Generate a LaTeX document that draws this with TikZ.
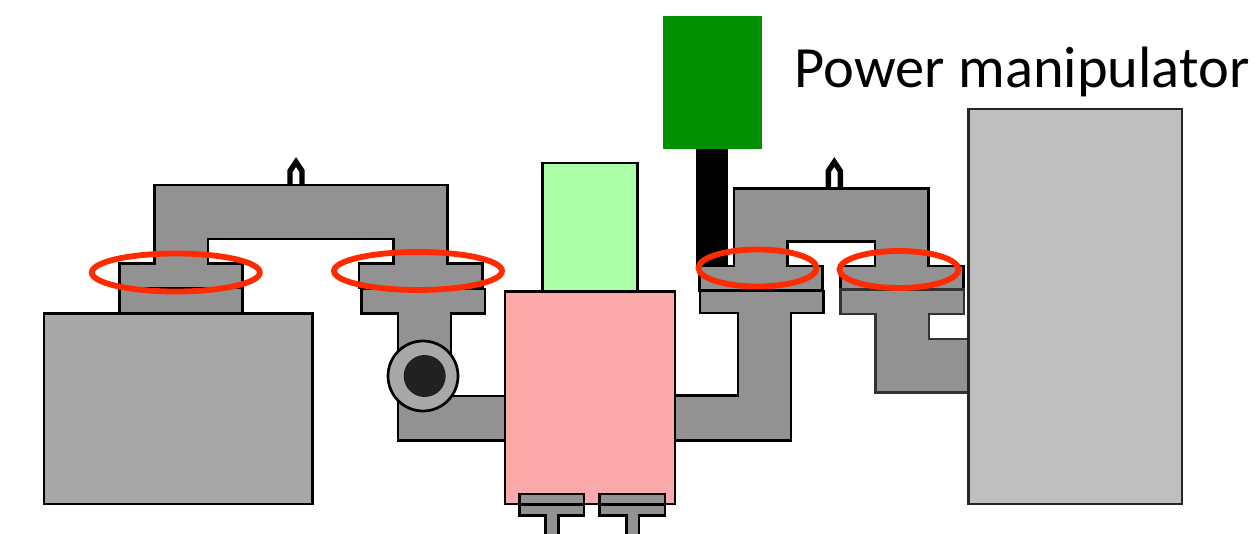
\documentclass[tikz,border=0pt]{standalone}
\usepackage{fontspec}
\setmainfont{Carlito}
\definecolor{partgray}{HTML}{929292}
\definecolor{tankgray}{HTML}{A8A8A8}
\definecolor{wallgray}{HTML}{BFBFBF}
\definecolor{pinkbox}{HTML}{FBA9A9}
\definecolor{greenbox}{HTML}{AAFFA6}
\definecolor{darkgreen}{HTML}{009000}
\definecolor{ringred}{HTML}{FF2A00}
\tikzset{
  part/.style={draw=black,fill=partgray,line width=1.35pt,line join=miter},
  softpart/.style={draw=black!80,fill=partgray,line width=1.35pt,line join=miter},
  tank/.style={draw=black,fill=tankgray,line width=1.35pt},
  ring/.style={draw=ringred,line width=2.9pt},
  nozzle/.style={draw=black,line width=2.7pt,line join=miter,fill=white}
}
\begin{document}
\begin{tikzpicture}[x=0.5pt,y=-0.5pt]
\clip (0,0) rectangle (1257,534);
% left tank and flanges
\draw[tank] (44,313.3) rectangle (312.3,504);
\draw[part] (119.7,288) rectangle (242.7,313.3);
\draw[nozzle] (290,187) -- (290,171) -- (296,162) -- (302,171) -- (302,187);
\draw[part] (154.3,263.3) -- (154.3,185) -- (447.3,185) -- (447.3,263.3) -- (482.3,263.3) -- (482.3,288) -- (359,288) -- (359,263.3) -- (393.7,263.3) -- (393.7,239) -- (208,239) -- (208,263.3) -- (242.7,263.3) -- (242.7,288) -- (119.7,288) -- (119.7,263.3) -- cycle;
% left pipe
\draw[part] (361.3,289) -- (485,289) -- (485,313.5) -- (451,313.5) -- (451,396) -- (510,396) -- (510,440.7) -- (398,440.7) -- (398,313.5) -- (361.3,313.5) -- cycle;
% valve
\draw[draw=black,fill=tankgray,line width=1.35pt] (423,376) circle [radius=35];
\fill[black!87] (424.7,376) circle [radius=21];
% right pipe 1
\draw[part] (700,291) -- (823.3,291) -- (823.3,313) -- (791,313) -- (791,440.7) -- (670,440.7) -- (670,395.7) -- (738,395.7) -- (738,313) -- (700,313) -- cycle;
% centre chamber
\draw[draw=black,fill=greenbox,line width=1.35pt] (542.5,163) rectangle (637.5,291.5);
\draw[draw=black,fill=pinkbox,line width=1.35pt] (505,291.5) rectangle (675,504);
% bottom feedthroughs
\draw[part] (545.3,540) -- (545.3,515.3) -- (519.3,515.3) -- (519.3,504.7) -- (584,504.7) -- (584,515.3) -- (558.3,515.3) -- (558.3,540);
\draw[part] (519.3,494) rectangle (584,504.7);
\draw[part] (626.7,540) -- (626.7,515.3) -- (599.7,515.3) -- (599.7,504.7) -- (665,504.7) -- (665,515.3) -- (639,515.3) -- (639,540);
\draw[part] (599.7,494) rectangle (665,504.7);
% manipulator
\fill[black] (696,149) rectangle (728,267);
\fill[darkgreen] (663,16) rectangle (762,149);
\node[anchor=base west,inner sep=0pt,font=\fontsize{29.2pt}{35pt}\selectfont] (label) at (794.5,88) {Power manipulator};
% right arch
\draw[nozzle] (828.3,189) -- (828.3,171) -- (834.3,162) -- (840.3,171) -- (840.3,189);
\draw[part] (734,266) -- (734,188.3) -- (928.3,188.3) -- (928.3,266) -- (963.3,266) -- (963.3,289) -- (840.3,289) -- (840.3,266) -- (875,266) -- (875,241.3) -- (787.7,241.3) -- (787.7,266) -- (822.7,266) -- (822.7,290.7) -- (699.3,290.7) -- (699.3,266) -- cycle;
% right pipe 2
\draw[softpart] (840.3,289.7) -- (964,289.7) -- (964,314) -- (929,314) -- (929,339) -- (975,339) -- (975,392.5) -- (875.3,392.5) -- (875.3,314) -- (840.3,314) -- cycle;
% right wall
\draw[draw=black!85,fill=wallgray,line width=1.35pt] (968.3,109) rectangle (1182,504);
% rings
\draw[ring] (175.8,272.5) ellipse [x radius=84, y radius=19];
\draw[ring] (418,271) ellipse [x radius=84, y radius=19];
\draw[ring] (757.5,268) ellipse [x radius=59, y radius=18.5];
\draw[ring] (899,269.5) ellipse [x radius=59.5, y radius=18.5];
\end{tikzpicture}
\end{document}
